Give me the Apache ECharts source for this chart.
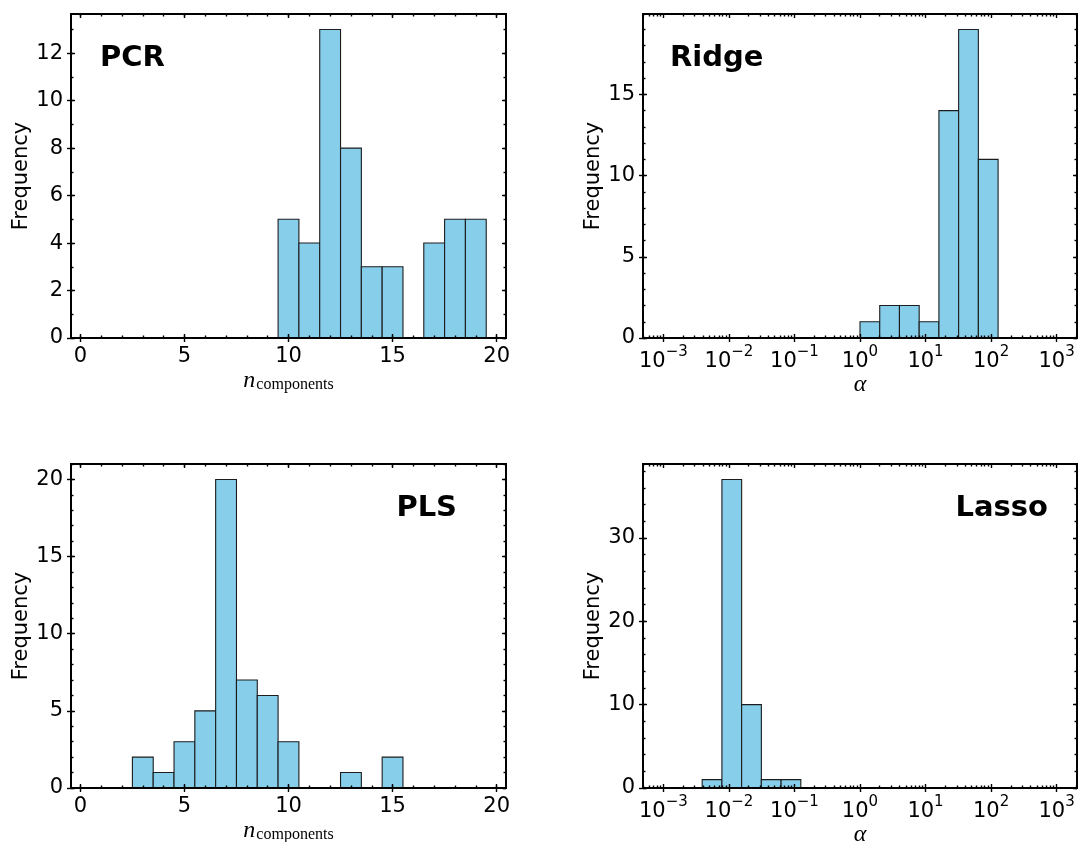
<!DOCTYPE html>
<html>
<head>
<meta charset="utf-8">
<script src="https://cdn.jsdelivr.net/npm/echarts@6/dist/echarts.min.js"></script>
<style>
  html, body { margin: 0; padding: 0; background: #ffffff; }
  #chart { width: 1080px; height: 842px; }
</style>
</head>
<body>
<div id="chart"></div>
<script>
// Selected number of components: one bin of width 1 per integer value
const pcrComponents = [10, 11, 12, 13, 14, 15, 17, 18, 19];
const pcrFrequency  = [5, 4, 13, 8, 3, 3, 4, 5, 5];
const plsComponents = [3, 4, 5, 6, 7, 8, 9, 10, 13, 15];
const plsFrequency  = [2, 1, 3, 5, 20, 7, 6, 3, 1, 2];

// Selected regularisation strength: bins run from 2^k to 2^(k+1)
const ridgeBinExponent = [0, 1, 2, 3, 4, 5, 6];
const ridgeFrequency   = [1, 2, 2, 1, 14, 19, 11];
const lassoBinExponent = [-8, -7, -6, -5, -4];
const lassoFrequency   = [1, 37, 10, 1, 1];

// Tick labels
const componentTicks = [0, 5, 10, 15, 20];
const alphaDecades   = [-3, -2, -1, 0, 1, 2, 3];
const pcrFreqTicks   = [0, 2, 4, 6, 8, 10, 12];
const ridgeFreqTicks = [0, 5, 10, 15];
const plsFreqTicks   = [0, 5, 10, 15, 20];
const lassoFreqTicks = [0, 10, 20, 30];

const FONT = 'DejaVu Sans';
const SERIF = 'Liberation Serif';
const FILL = '#87ceeb';
const EDGE = '#1c1c1c';
const LABEL_SIZE = 21;
const ALPHA_MIN = Math.pow(2, -11);
const ALPHA_MAX = Math.pow(2, 11);

function steps(start, stop, step) {
  const out = [];
  for (let v = start; v <= stop + 1e-9; v += step) out.push(+v.toFixed(6));
  return out;
}

// minor ticks of a log axis: 2..9 x 10^d
const alphaMinor = [];
for (let d = -4; d <= 3; d++) {
  for (let k = 2; k <= 9; k++) {
    const v = k * Math.pow(10, d);
    if (v > ALPHA_MIN && v < ALPHA_MAX) alphaMinor.push(v);
  }
}

function supLabel(value) {
  const e = Math.round(Math.log10(value));
  const s = e < 0 ? '\u2212' + (-e) : String(e);
  return '{b|10}{s|' + s + '}';
}

const panels = [
  {
    title: 'PCR', left: 71, top: 14, width: 435, log: false,
    bins: pcrComponents.map(v => [v - 0.5, v + 0.5]), freq: pcrFrequency,
    yTicks: pcrFreqTicks, yMinor: 1, titleX: 100, titleAlign: 'left'
  },
  {
    title: 'Ridge', left: 643, top: 14, width: 434, log: true,
    bins: ridgeBinExponent.map(k => [Math.pow(2, k), Math.pow(2, k + 1)]), freq: ridgeFrequency,
    yTicks: ridgeFreqTicks, yMinor: 1, titleX: 670, titleAlign: 'left'
  },
  {
    title: 'PLS', left: 71, top: 464, width: 435, log: false,
    bins: plsComponents.map(v => [v - 0.5, v + 0.5]), freq: plsFrequency,
    yTicks: plsFreqTicks, yMinor: 1, titleX: 457, titleAlign: 'right'
  },
  {
    title: 'Lasso', left: 643, top: 464, width: 434, log: true,
    bins: lassoBinExponent.map(k => [Math.pow(2, k), Math.pow(2, k + 1)]), freq: lassoFrequency,
    yTicks: lassoFreqTicks, yMinor: 2, titleX: 1048, titleAlign: 'right'
  }
];

const PLOT_H = 324;
const lineStyle = { color: '#000', width: 2, cap: 'square' };
const tickStyle = { color: '#000', width: 1.4 };

const grid = [], xAxis = [], yAxis = [], series = [], graphic = [];

panels.forEach((p, gi) => {
  grid.push({
    left: p.left, top: p.top, width: p.width, height: PLOT_H,
    containLabel: false, outerBoundsMode: 'none'
  });

  const xBase = p.log
    ? { type: 'log', logBase: 10, min: ALPHA_MIN, max: ALPHA_MAX }
    : { type: 'value', min: -0.45, max: 20.45 };
  const xMajor = p.log ? alphaDecades.map(e => Math.pow(10, e)) : componentTicks;
  const xMinor = p.log ? alphaMinor : steps(0, 20, 1);

  const yMax = Math.max(...p.freq) * 1.05;
  const yBase = { type: 'value', min: 0, max: yMax };
  const yMajor = p.yTicks;
  const yMinor = steps(0, yMax, p.yMinor);

  const hidden = {
    gridIndex: gi, z: 5, splitLine: { show: false }, splitArea: { show: false },
    axisLine: { show: false, onZero: false }, axisLabel: { show: false }
  };

  const xName = p.log
    ? { name: '\u03b1', nameLocation: 'middle', nameGap: 27,
        nameTextStyle: { fontFamily: SERIF, fontStyle: 'italic', fontSize: 24, color: '#000' } }
    : { name: '{i|n}{c|components}', nameLocation: 'middle', nameGap: 27,
        nameTextStyle: { color: '#000', rich: {
          i: { fontFamily: SERIF, fontStyle: 'italic', fontSize: 24, verticalAlign: 'bottom', lineHeight: 28, color: '#000' },
          c: { fontFamily: SERIF, fontSize: 16, verticalAlign: 'bottom', color: '#000', padding: [0, 0, 0, 1] }
        } } };

  const xLabel = p.log
    ? { show: true, customValues: xMajor, margin: 7, formatter: supLabel,
        rich: {
          b: { fontFamily: FONT, fontSize: LABEL_SIZE, color: '#000', verticalAlign: 'bottom', lineHeight: 27 },
          s: { fontFamily: FONT, fontSize: 15, color: '#000', verticalAlign: 'top', lineHeight: 16 }
        } }
    : { show: true, customValues: xMajor, margin: 8, fontFamily: FONT, fontSize: LABEL_SIZE, color: '#000' };

  const xi = xAxis.length;
  xAxis.push(
    Object.assign({}, hidden, xBase, xName, {
      position: 'bottom',
      axisLine: { show: true, onZero: false, lineStyle },
      axisTick: { show: true, inside: false, length: 4, customValues: xMajor, lineStyle: tickStyle },
      axisLabel: xLabel
    }),
    Object.assign({}, hidden, xBase, { position: 'bottom',
      axisTick: { show: true, inside: true, length: 4, customValues: xMajor, lineStyle: tickStyle } }),
    Object.assign({}, hidden, xBase, { position: 'bottom',
      axisTick: { show: true, inside: true, length: 2.5, customValues: xMinor, lineStyle: tickStyle } }),
    Object.assign({}, hidden, xBase, { position: 'top',
      axisLine: { show: true, onZero: false, lineStyle },
      axisTick: { show: true, inside: true, length: 4, customValues: xMajor, lineStyle: tickStyle } }),
    Object.assign({}, hidden, xBase, { position: 'top',
      axisTick: { show: true, inside: true, length: 2.5, customValues: xMinor, lineStyle: tickStyle } })
  );

  const yi = yAxis.length;
  yAxis.push(
    Object.assign({}, hidden, yBase, {
      position: 'left',
      name: 'Frequency', nameLocation: 'middle', nameGap: 36,
      nameTextStyle: { fontFamily: FONT, fontSize: LABEL_SIZE, color: '#000' },
      axisLine: { show: true, onZero: false, lineStyle },
      axisTick: { show: true, inside: false, length: 4, customValues: yMajor, lineStyle: tickStyle },
      axisLabel: { show: true, customValues: yMajor, margin: 8, fontFamily: FONT, fontSize: LABEL_SIZE, color: '#000' }
    }),
    Object.assign({}, hidden, yBase, { position: 'left',
      axisTick: { show: true, inside: true, length: 4, customValues: yMajor, lineStyle: tickStyle } }),
    Object.assign({}, hidden, yBase, { position: 'left',
      axisTick: { show: true, inside: true, length: 2.5, customValues: yMinor, lineStyle: tickStyle } }),
    Object.assign({}, hidden, yBase, { position: 'right',
      axisLine: { show: true, onZero: false, lineStyle },
      axisTick: { show: true, inside: true, length: 4, customValues: yMajor, lineStyle: tickStyle } }),
    Object.assign({}, hidden, yBase, { position: 'right',
      axisTick: { show: true, inside: true, length: 2.5, customValues: yMinor, lineStyle: tickStyle } })
  );

  series.push({
    type: 'custom',
    name: p.title,
    xAxisIndex: xi,
    yAxisIndex: yi,
    z: 1,
    encode: { x: [0, 1], y: 2 },
    data: p.bins.map((b, i) => [b[0], b[1], p.freq[i]]),
    renderItem: function (params, api) {
      const lo = api.coord([api.value(0), 0]);
      const hi = api.coord([api.value(1), api.value(2)]);
      return {
        type: 'rect',
        shape: { x: lo[0], y: hi[1], width: hi[0] - lo[0], height: lo[1] - hi[1] },
        style: { fill: FILL, stroke: EDGE, lineWidth: 1.1 }
      };
    }
  });

  graphic.push({
    type: 'text', x: p.titleX, y: p.top + 44, z: 10,
    style: {
      text: p.title, fill: '#000', font: 'bold 29px "DejaVu Sans"',
      align: p.titleAlign, verticalAlign: 'middle'
    }
  });
});

const chart = echarts.init(document.getElementById('chart'), null, { renderer: 'canvas' });
chart.setOption({
  animation: false,
  backgroundColor: '#ffffff',
  grid, xAxis, yAxis, series, graphic
});
</script>
</body>
</html>
